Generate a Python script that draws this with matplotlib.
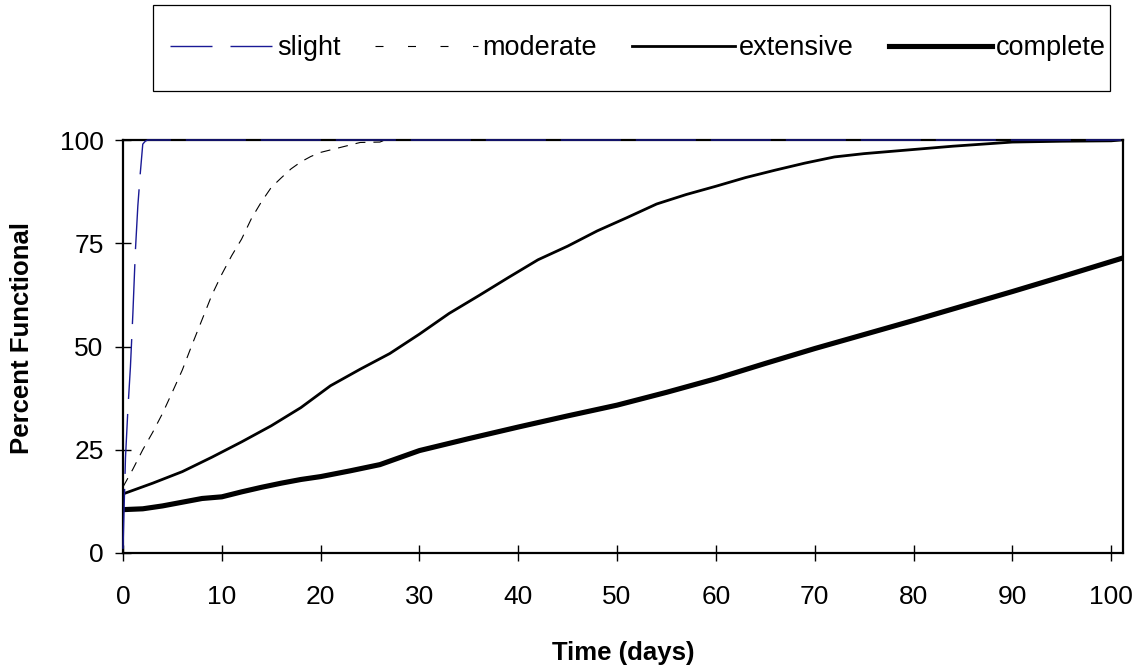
import matplotlib
matplotlib.use("Agg")
import matplotlib.pyplot as plt
from matplotlib.patches import Rectangle
from matplotlib.lines import Line2D

plt.rcParams['font.family'] = ['Liberation Sans', 'DejaVu Sans']
plt.rcParams['lines.scale_dashes'] = False

# ---- data ----
slight_t = [0, 0.25, 0.5, 0.75, 1.0, 1.25, 1.5, 1.75, 2.0, 2.25, 2.5, 101]
slight_v = [1, 23, 35, 45, 58, 73, 84, 92, 99, 99.7, 100, 100]

moderate_t = [0, 1, 2, 3, 4, 5, 6, 7, 8, 9, 10, 11, 12, 13, 14, 15, 16, 17, 18, 19,
              20, 21, 22, 23, 24, 26, 26.5, 101]
moderate_v = [16.0, 20.3, 25.0, 29.2, 33.8, 39, 44.3, 50.5, 56.5, 62.5, 67.5, 72, 76,
              81, 85, 88.5, 90.8, 93, 94.7, 96, 97, 97.6, 98.2, 98.8, 99.4, 99.5, 100,
              100]

extensive_t = [0, 3, 6, 9, 12, 15, 18, 21, 24, 27, 30, 33, 36, 39, 42, 45, 48, 51, 54,
               57, 60, 63, 66, 69, 72, 75, 78, 81, 84, 87, 90, 95, 100, 101]
extensive_v = [14.3, 16.9, 19.7, 23.2, 26.9, 30.8, 35.2, 40.5, 44.5, 48.3, 53, 58, 62.3,
               66.7, 71, 74.3, 78, 81.2, 84.5, 86.8, 88.8, 90.9, 92.7, 94.4, 95.9, 96.7,
               97.3, 97.9, 98.5, 99.0, 99.5, 99.7, 99.8, 100]

complete_t = [0, 2, 4, 6, 8, 10, 12, 14, 16, 18, 20, 23, 26, 30, 35, 40, 45, 50, 55,
              60, 65, 70, 75, 80, 85, 90, 95, 101]
complete_v = [10.5, 10.7, 11.4, 12.3, 13.2, 13.6, 14.8, 15.9, 16.9, 17.8, 18.5, 19.9,
              21.4, 24.8, 27.7, 30.5, 33.2, 35.8, 38.9, 42.2, 45.9, 49.5, 52.9, 56.3,
              59.8, 63.3, 66.9, 71.3]

series_names = ['slight', 'moderate', 'extensive', 'complete']
x_ticks = [0, 10, 20, 30, 40, 50, 60, 70, 80, 90, 100]
y_ticks = [0, 25, 50, 75, 100]

W, H = 1140, 669
L, R, T, B = 123, 1123, 140, 553
PX = 0.72  # points per pixel at dpi 100
NAVY = '#1a1a96'

fig = plt.figure(figsize=(W / 100, H / 100), dpi=100)
ax = fig.add_axes([L / W, 1 - B / H, (R - L) / W, (B - T) / H])

ax.plot(slight_t, slight_v, color=NAVY, lw=1.0, dashes=(60 * PX, 15 * PX),
        zorder=3, clip_on=False)
ax.plot(moderate_t, moderate_v, color='black', lw=0.8, dashes=(10 * PX, 8 * PX))
ax.plot(extensive_t, extensive_v, color='black', lw=2.0)
ax.plot(complete_t, complete_v, color='black', lw=3.7)

ax.set_xlim(0, 101.2)
ax.set_ylim(0, 100)
ax.set_xticks(x_ticks)
ax.set_yticks(y_ticks)
ax.tick_params(axis='both', direction='inout', length=12, width=1, labelsize=19)
ax.tick_params(axis='x', pad=17)
ax.tick_params(axis='y', pad=8)
for s in ax.spines.values():
    s.set_linewidth(1.6)

ax.set_xlabel('Time (days)', fontsize=18.5, fontweight='bold')
ax.xaxis.label.set_va('center')
ax.xaxis.set_label_coords(0.5, -(653 - B) / (B - T))
ax.set_ylabel('Percent Functional', fontsize=18.5, fontweight='bold')
ax.yaxis.label.set_va('center')
ax.yaxis.set_label_coords(-(L - 22) / (R - L), (B - 338) / (B - T))

# legend box and entries
box = Rectangle((153 / W, 1 - 91 / H), (1110 - 153) / W, (91 - 5) / H,
                transform=fig.transFigure, facecolor='white', edgecolor='black',
                linewidth=0.9)
fig.patches.append(box)
handles = [
    Line2D([], [], color=NAVY, lw=1.0, dashes=(42 * PX, 18 * PX)),
    Line2D([], [], color='black', lw=0.8, dashes=(8 * PX, 24.5 * PX)),
    Line2D([], [], color='black', lw=2.0),
    Line2D([], [], color='black', lw=3.7),
]
leg = fig.legend(handles=handles, labels=series_names, loc='center left',
                 bbox_to_anchor=(170 / W, 1 - 48 / H), ncol=4, fontsize=19.5,
                 frameon=False, handlelength=3.8, handletextpad=0.15,
                 columnspacing=1.29, borderpad=0, borderaxespad=0)

fig.savefig('out.png', dpi=100)
